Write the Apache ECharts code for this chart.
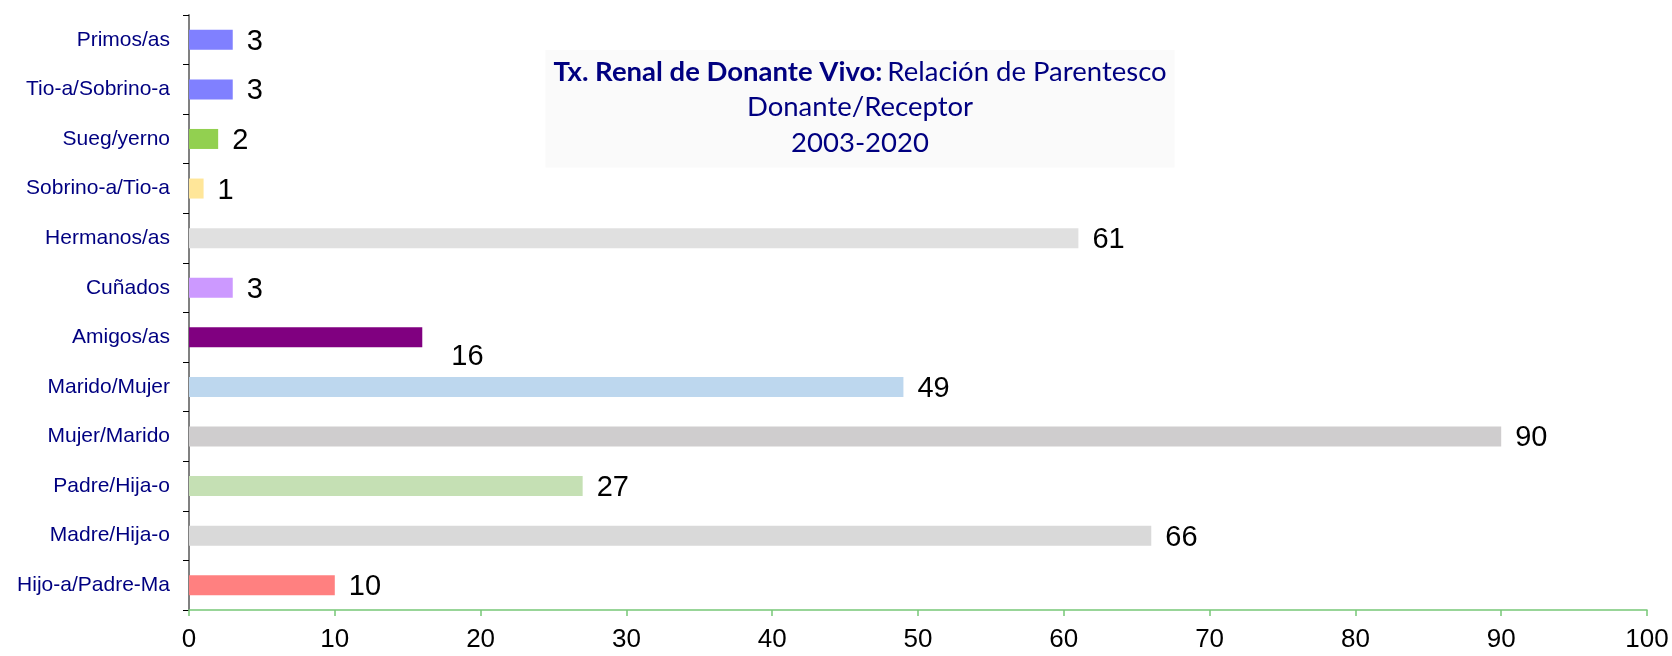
<!DOCTYPE html>
<html>
<head>
<meta charset="utf-8">
<script src="https://cdn.jsdelivr.net/npm/echarts@6/dist/echarts.min.js"></script>
<style>html,body{margin:0;padding:0;background:#fff}#c{width:1672px;height:656px}</style>
</head>
<body>
<div id="c"></div>
<script>
// Data (bottom to top)
const categories = ['Hijo-a/Padre-Ma','Madre/Hija-o','Padre/Hija-o','Mujer/Marido','Marido/Mujer','Amigos/as','Cuñados','Hermanos/as','Sobrino-a/Tio-a','Sueg/yerno','Tio-a/Sobrino-a','Primos/as'];
const values = [10, 66, 27, 90, 49, 16, 3, 61, 1, 2, 3, 3];
const barColors = ['#FF8080','#D9D9D9','#C5E0B4','#CFCDCE','#BDD7EE','#800080','#CC99FF','#E0E0E0','#FFE699','#92D050','#8080FF','#8080FF'];
const xTicks = [0,10,20,30,40,50,60,70,80,90,100];

const chart = echarts.init(document.getElementById('c'));
const seriesData = values.map((v, i) => {
  const item = { value: v, itemStyle: { color: barColors[i] } };
  if (categories[i] === 'Amigos/as') {
    item.label = { offset: [15, 20] };
  }
  return item;
});

chart.setOption({
  backgroundColor: '#ffffff',
  animation: false,
  title: {
    text: '{b|Tx. Renal de Donante Vivo:} {r|Relación de Parentesco}\n{r|Donante/Receptor}\n{r|2003-2020}',
    left: 852,
    top: 50,
    backgroundColor: '#FAFAFA',
    padding: [4, 8, 7, 8],
    textAlign: 'center',
    textStyle: {
      align: 'center',
      lineHeight: 35.5,
      rich: {
        b: { fontFamily: 'Lato', fontWeight: 'bold', fontSize: 27.5, color: '#000080', lineHeight: 35.5, align: 'center' },
        r: { fontFamily: 'Lato', fontWeight: 'normal', fontSize: 27.5, color: '#000080', lineHeight: 35.5, align: 'center' }
      }
    }
  },
  grid: { left: 189, right: 25, top: 15, bottom: 46, containLabel: false },
  xAxis: {
    type: 'value',
    min: 0,
    max: 100,
    interval: 10,
    axisLine: { show: true, lineStyle: { color: '#77C777', width: 1.5 } },
    axisTick: { show: true, length: 6, lineStyle: { color: '#77C777', width: 1.5 } },
    splitLine: { show: false },
    axisLabel: {
      color: '#000000', fontFamily: 'Liberation Sans', fontSize: 26, margin: 17,
      formatter: v => xTicks.includes(v) ? String(v) : ''
    }
  },
  yAxis: {
    type: 'category',
    data: categories,
    boundaryGap: true,
    axisLine: { show: true, lineStyle: { color: '#808080', width: 2 } },
    axisTick: { show: true, length: 6, lineStyle: { color: '#000000', width: 1 } },
    axisLabel: { color: '#000080', fontFamily: 'Liberation Sans', fontSize: 21, margin: 19 }
  },
  series: [{
    type: 'bar',
    data: seriesData,
    barWidth: 20,
    label: {
      show: true,
      position: 'right',
      distance: 14,
      offset: [0, 2],
      color: '#000000',
      fontFamily: 'Liberation Sans',
      fontSize: 29
    }
  }]
});
</script>
</body>
</html>
